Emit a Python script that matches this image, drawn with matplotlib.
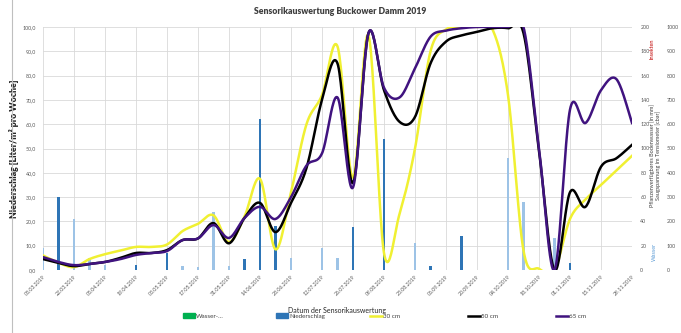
import numpy as np
import matplotlib
matplotlib.use("Agg")
import matplotlib.pyplot as plt
import matplotlib.dates as mdates
from matplotlib.lines import Line2D
from matplotlib.patches import Patch

plt.rcParams['font.family'] = ['Lato', 'DejaVu Sans']

# %% Daten (woechentlich ab 08.03.2019)
weeks = np.arange('2019-03-08', '2019-11-30', 7, dtype='datetime64[D]')

# Niederschlag [l/m² pro Woche]
niederschlag = [0, 30, 0, 0, 0, 0, 2, 0, 7, 0, 0, 0, 0, 4.5, 62, 18, 0, 0, 0, 0,
                17.5, 0, 54, 0, 0, 1.5, 0, 14, 0, 0, 0, 0, 0, 0, 3, 0, 0, 0, 0]
niederschlag_hell = [9, 0, 21, 5, 2, 0, 0, 0, 0, 1.5, 1.2, 24, 1.5, 0, 0, 0, 5, 0, 9, 4.8,
                     0, 0, 0, 0, 11, 0, 0, 0, 0, 0, 46, 28, 0, 13, 0, 0, 0, 0, 0]

# Saugspannung [cbar] je Tiefe
t30 = [12, 6, 2.4, 9, 13, 16, 19, 19, 21, 32, 38, 45, 23, 44, 75, 17, 64, 120, 144, 184,
       76, 193, 14, 46, 100, 180, 198, 200, 200, 198, 144, 16, 1, 0, 42, 58, 70, 82, 94]
t50 = [9, 5.8, 3.2, 5, 6.6, 10, 14, 14, 16.4, 24.6, 26, 38.6, 22, 42.8, 55.2, 31.2, 55.2, 84, 140, 170,
       71.6, 195, 148, 122, 126, 170, 188, 193, 196, 199, 199, 195, 98, 0, 64, 52, 85, 92, 103]
t65 = [10.6, 6.6, 4, 5, 6.6, 9, 12.4, 14, 15.6, 24.6, 26, 37, 26.4, 42.8, 52, 42, 60, 86, 96, 142,
       68, 195, 150, 142, 166, 192, 197, 199, 200, 200, 200, 200, 100, 0, 132, 121, 148, 157, 121]

tick_dates = weeks[::2]


def smooth(x, y, n=24):
    # Catmull-Rom Glaettung wie "geglaettete Linie" in Excel
    x = np.asarray(x, float)
    y = np.asarray(y, float)
    px = np.concatenate([[x[0]], x, [x[-1]]])
    py = np.concatenate([[y[0]], y, [y[-1]]])
    t = np.linspace(0, 1, n, endpoint=False)[:, None]
    def cr(p):
        p0, p1, p2, p3 = p[:-3], p[1:-2], p[2:-1], p[3:]
        return 0.5 * (2 * p1 + (-p0 + p2) * t + (2 * p0 - 5 * p1 + 4 * p2 - p3) * t ** 2
                      + (-p0 + 3 * p1 - 3 * p2 + p3) * t ** 3)
    xs = cr(px).T.ravel()
    ys = cr(py).T.ravel()
    return np.append(xs, x[-1]), np.append(ys, y[-1])


xd = mdates.date2num(weeks.astype('datetime64[s]').astype(object))

# %% Plot
fig = plt.figure(figsize=(6.81, 3.33), dpi=100)
ax = fig.add_axes([43 / 681, 63 / 333, 589 / 681, 243 / 333])

ax.bar(xd, niederschlag_hell, width=1.3, color='#9DC3E6', zorder=2)
bar_n = ax.bar(xd, niederschlag, width=1.3, color='#2E75B6', zorder=2)

ax.set_xlim(xd[0], xd[-1])
ax.set_ylim(0, 100)
yt = np.arange(0, 101, 10)
ax.set_yticks(yt)
ax.set_yticklabels([f"{v:.1f}".replace('.', ',') for v in yt])
ax.set_xticks(xd[::2])
ax.set_xticklabels([str(d)[8:10] + '.' + str(d)[5:7] + '.' + str(d)[:4] for d in tick_dates],
                   rotation=45, ha='right', rotation_mode='anchor')
ax.tick_params(axis='both', length=0, labelsize=3.8, colors='#595959')
ax.tick_params(axis='y', pad=5)
ax.tick_params(axis='x', pad=3)
ax.grid(True, color='#D9D9D9', lw=0.6, zorder=0)
ax.set_axisbelow(True)
for s in ax.spines.values():
    s.set_visible(False)

ax.set_ylabel('Niederschlag [Liter/m² pro Woche]', fontsize=6.3, fontweight='heavy',
              color='#262626')
ax.yaxis.set_label_coords(-0.04, 0.5)
ax.set_xlabel('Datum der Sensorikauswertung', fontsize=5, color='#262626', labelpad=7)

# Saugspannung auf zweiter Achse
ax2 = ax.twinx()
l30, = ax2.plot(*smooth(xd, t30), color='#F0F032', lw=1.8, zorder=3)
l50, = ax2.plot(*smooth(xd, t50), color='black', lw=1.8, zorder=4)
l65, = ax2.plot(*smooth(xd, t65), color='#40137F', lw=1.8, zorder=5)
ax2.set_ylim(0, 200)
ax2.set_yticks(np.arange(0, 201, 20))
ax2.tick_params(axis='y', length=0, labelsize=3.8, colors='#595959', pad=6)
for s in ax2.spines.values():
    s.set_visible(False)

# dritte Achse (hPa)
ax3 = ax.twinx()
ax3.set_ylim(0, 1000)
ax3.set_yticks(np.arange(0, 1001, 100))
ax3.spines['right'].set_position(('outward', 22))
ax3.tick_params(axis='y', length=0, labelsize=3.8, colors='#595959', pad=3)
for s in ax3.spines.values():
    s.set_visible(False)

fig.text(0.5, 1 - 12 / 333, 'Sensorikauswertung Buckower Damm 2019', ha='center', va='center',
         fontsize=6.2, fontweight='heavy', color='#404040')
fig.text(655 / 681, 1 - 155 / 333,
         'Pflanzenverfügbares Bodenwasser [in mm]\nSaugspannung im Tensiometer [cbar]',
         rotation=90, ha='center', va='center', fontsize=4, color='#404040',
         multialignment='center', linespacing=1.1)
fig.text(652 / 681, 1 - 49 / 333, 'Insekten', rotation=90, ha='center', va='center',
         fontsize=4, color='#C00000')
fig.text(654 / 681, 1 - 252 / 333, 'Wasser', rotation=90, ha='center', va='center',
         fontsize=4, color='#5B9BD5')

# Rahmen links
fig.add_artist(Line2D([12 / 681, 12 / 681], [0, 1], color='#BFBFBF', lw=0.8))

# Legende
entries = [(Patch(color='#00B050'), 'Wasser-…', 183),
           (Patch(color='#2E75B6'), 'Niederschlag', 276),
           (l30, '30 cm', 370),
           (l50, '50 cm', 468),
           (l65, '65 cm', 556)]
for h, lab, xpos in entries:
    fig.legend(handles=[h], labels=[lab], loc='center left',
               bbox_to_anchor=(xpos / 681, 1 - 316 / 333), frameon=False,
               fontsize=4.5, handlelength=1.9, handletextpad=0.2,
               borderpad=0, borderaxespad=0, labelcolor='#404040')

plt.savefig('out.png', dpi=100)
